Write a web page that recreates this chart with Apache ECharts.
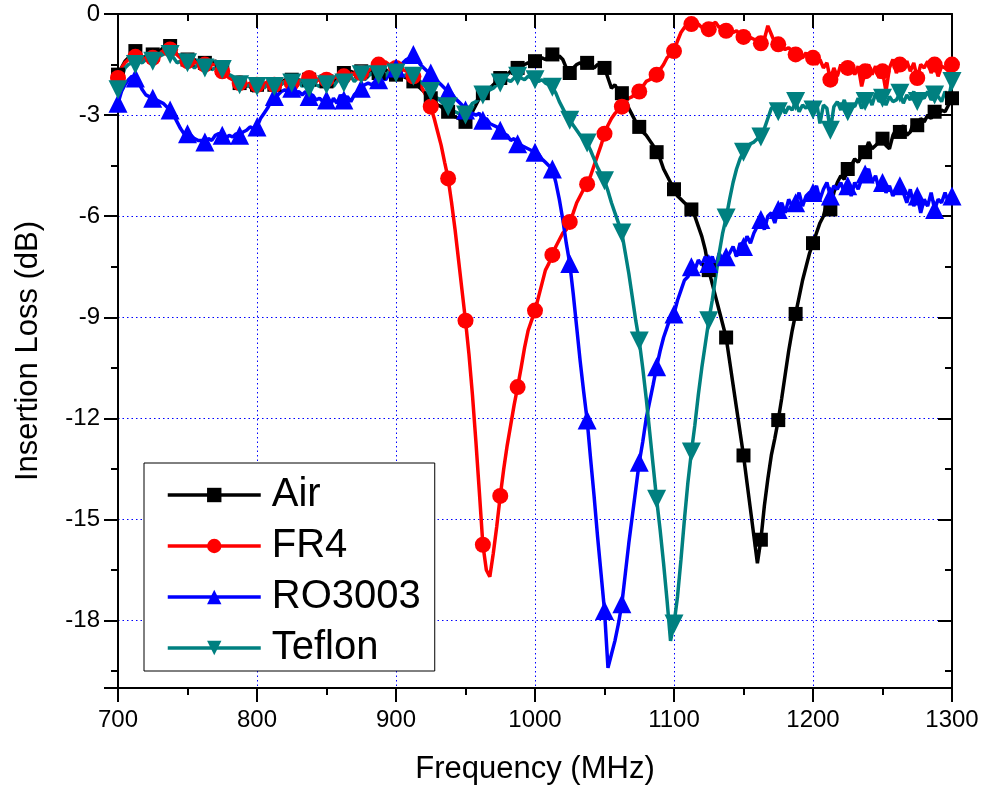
<!DOCTYPE html>
<html>
<head>
<meta charset="utf-8">
<script src="https://cdn.jsdelivr.net/npm/echarts@6/dist/echarts.min.js"></script>
<style>
  html, body { margin: 0; padding: 0; background: #fff; }
  #chart { width: 984px; height: 790px; }
</style>
</head>
<body>
<div id="chart"></div>
<script>
// insertion loss in dB, sampled every 2.5 MHz from 700 to 1300 MHz
const air = [
  -1.8, -1.6, -1.4, -1.3, -1.2, -1.1, -1.2, -1.3, -1.25, -1.3, -1.2, -1.2, -1.1, -1.0, -0.95, -0.95, -1.1, -1.2, -1.3, -1.3,
  -1.35, -1.4, -1.35, -1.45, -1.5, -1.45, -1.5, -1.45, -1.4, -1.45, -1.6, -1.7, -1.85, -1.95, -2.0, -2.05, -2.0, -2.1, -2.15, -2.3,
  -2.1, -2.2, -2.05, -2.1, -2.0, -2.1, -2.0, -2.05, -1.95, -2.0, -1.95, -2.05, -1.95, -2.0, -1.9, -1.95, -1.9, -2.0, -1.9, -1.95,
  -2.0, -1.9, -2.0, -1.85, -1.9, -1.75, -1.8, -1.7, -1.75, -1.85, -1.7, -1.8, -1.75, -1.7, -1.65, -1.75, -1.7, -1.65, -1.75, -1.8,
  -1.8, -1.75, -1.85, -1.9, -1.95, -2.0, -2.1, -2.2, -2.3, -2.4, -2.5, -2.6, -2.7, -2.75, -2.85, -2.9, -3.0, -3.05, -3.1, -3.15,
  -3.2, -3.1, -2.9, -2.7, -2.5, -2.35, -2.3, -2.2, -2.1, -2.0, -1.9, -1.85, -1.8, -1.7, -1.65, -1.6, -1.55, -1.5, -1.45, -1.45,
  -1.4, -1.35, -1.3, -1.35, -1.25, -1.2, -1.3, -1.25, -1.35, -1.6, -1.75, -1.6, -1.5, -1.45, -1.55, -1.45, -1.5, -1.6, -1.5, -1.55,
  -1.6, -1.9, -2.2, -2.1, -2.3, -2.35, -2.5, -2.8, -3.0, -3.2, -3.35, -3.5, -3.6, -3.75, -3.9, -4.1, -4.3, -4.6, -4.8, -5.0,
  -5.2, -5.4, -5.5, -5.6, -5.7, -5.8, -6.0, -6.3, -6.6, -7.0, -7.6, -8.0, -8.4, -8.8, -9.2, -9.6, -10.3, -11.0, -11.7, -12.4,
  -13.1, -13.9, -14.7, -15.5, -16.3, -15.6, -14.6, -13.8, -13.1, -12.6, -12.05, -11.4, -10.7, -10.0, -9.4, -8.9, -8.4, -7.9, -7.5, -7.1,
  -6.8, -6.5, -6.2, -6.0, -5.6, -5.8, -5.3, -5.0, -4.8, -4.9, -4.6, -4.5, -4.3, -4.4, -4.2, -4.1, -3.8, -4.0, -3.9, -3.8,
  -3.7, -3.9, -4.0, -3.6, -3.4, -3.5, -3.3, -3.6, -3.5, -3.2, -3.3, -3.1, -3.2, -3.0, -3.1, -2.9, -3.0, -2.85, -2.9, -2.7,
  -2.5
];
const fr4 = [
  -1.9, -1.6, -1.45, -1.35, -1.3, -1.27, -1.3, -1.35, -1.3, -1.25, -1.3, -1.2, -1.15, -1.1, -1.05, -1.05, -1.1, -1.2, -1.3, -1.35,
  -1.4, -1.45, -1.4, -1.5, -1.55, -1.5, -1.45, -1.5, -1.5, -1.55, -1.7, -1.8, -1.9, -1.95, -2.0, -2.05, -2.0, -2.1, -2.05, -2.15,
  -2.1, -2.05, -2.1, -2.0, -2.05, -2.1, -1.95, -2.05, -2.0, -1.95, -2.05, -1.9, -2.0, -1.95, -2.0, -1.9, -1.95, -2.0, -1.9, -1.9,
  -1.95, -1.85, -1.9, -1.85, -1.8, -1.85, -1.7, -1.75, -1.8, -1.7, -1.75, -1.65, -1.7, -1.6, -1.55, -1.5, -1.45, -1.42, -1.5, -1.55,
  -1.6, -1.6, -1.65, -1.7, -1.8, -1.85, -1.95, -2.1, -2.3, -2.5, -2.75, -3.1, -3.5, -3.9, -4.4, -4.88, -5.6, -6.4, -7.3, -8.2,
  -9.1, -10.1, -11.3, -12.7, -14.2, -15.75, -16.5, -16.7, -16.0, -15.2, -14.3, -13.5, -12.8, -12.2, -11.6, -11.07, -10.5, -9.9, -9.4, -9.1,
  -8.8, -8.4, -8.0, -7.6, -7.4, -7.15, -6.9, -6.7, -6.5, -6.4, -6.17, -5.9, -5.6, -5.4, -5.2, -5.05, -4.8, -4.5, -4.2, -3.9,
  -3.55, -3.3, -3.1, -2.95, -2.85, -2.75, -2.6, -2.5, -2.45, -2.35, -2.3, -2.15, -2.0, -1.95, -1.85, -1.8, -1.65, -1.5, -1.3, -1.2,
  -1.1, -0.8, -0.55, -0.4, -0.33, -0.3, -0.35, -0.3, -0.4, -0.35, -0.45, -0.3, -0.25, -0.4, -0.35, -0.5, -0.45, -0.55, -0.5, -0.6,
  -0.68, -0.65, -0.7, -0.75, -0.8, -0.87, -0.75, -0.35, -0.6, -0.85, -0.9, -1.0, -1.05, -1.0, -1.1, -1.2, -1.25, -1.3, -1.15, -1.4,
  -1.3, -1.5, -1.35, -1.6, -1.45, -1.95, -1.6, -1.85, -1.5, -1.75, -1.6, -1.45, -1.8, -1.55, -2.15, -1.7, -1.5, -1.8, -1.55, -1.9,
  -1.7, -2.3, -1.6, -1.35, -1.75, -1.5, -1.65, -1.4, -1.7, -1.45, -1.9, -1.5, -1.6, -1.4, -1.75, -1.5, -1.85, -1.55, -1.6, -1.7,
  -1.5
];
const ro3003 = [
  -2.65, -2.3, -2.1, -1.95, -1.85, -1.9, -2.05, -2.25, -2.4, -2.45, -2.5, -2.55, -2.6, -2.65, -2.75, -2.85, -3.0, -3.2, -3.4, -3.55,
  -3.55, -3.6, -3.7, -3.75, -3.75, -3.8, -3.7, -3.75, -3.6, -3.55, -3.6, -3.7, -3.6, -3.65, -3.55, -3.6, -3.5, -3.45, -3.35, -3.4,
  -3.35, -3.1, -2.95, -2.8, -2.6, -2.45, -2.4, -2.3, -2.25, -2.3, -2.2, -2.35, -2.3, -2.4, -2.3, -2.45, -2.4, -2.55, -2.5, -2.6,
  -2.55, -2.75, -2.5, -2.65, -2.4, -2.55, -2.45, -2.6, -2.4, -2.3, -2.2, -2.1, -2.05, -2.1, -2.0, -1.95, -1.9, -1.95, -1.8, -1.7,
  -1.6, -1.55, -1.45, -1.35, -1.3, -1.2, -1.35, -1.5, -1.6, -1.7, -1.75, -1.9, -2.0, -2.1, -2.2, -2.3, -2.35, -2.5, -2.6, -2.7,
  -2.85, -2.9, -2.95, -3.0, -2.95, -3.15, -3.1, -3.25, -3.3, -3.35, -3.45, -3.55, -3.6, -3.75, -3.7, -3.85, -3.9, -3.95, -4.0, -4.05,
  -4.1, -4.15, -4.3, -4.4, -4.5, -4.6, -5.0, -5.5, -6.1, -6.8, -7.4, -8.3, -9.3, -10.3, -11.2, -12.05, -13.2, -14.3, -15.5, -16.6,
  -17.7, -19.4, -19.0, -18.6, -18.1, -17.5, -16.6, -15.7, -14.9, -14.1, -13.3, -12.7, -12.0, -11.5, -11.0, -10.47, -10.0, -9.6, -9.3, -9.0,
  -8.9, -8.5, -8.2, -7.9, -7.8, -7.5, -7.6, -7.3, -7.45, -7.2, -7.4, -7.2, -7.5, -7.1, -7.3, -7.2, -7.1, -6.9, -7.2, -6.8,
  -6.9, -6.6, -6.8, -6.5, -6.3, -6.1, -6.4, -6.0, -5.9, -6.2, -5.8, -5.6, -5.9, -5.5, -5.7, -5.6, -5.3, -5.7, -5.4, -5.3,
  -5.3, -5.1, -5.5, -5.2, -5.0, -5.4, -5.1, -5.2, -5.0, -5.3, -5.1, -5.4, -5.0, -5.2, -4.9, -4.75, -4.6, -5.0, -4.8, -5.2,
  -5.0, -5.3, -5.1, -5.4, -5.2, -5.1, -5.3, -5.6, -5.2, -5.7, -5.4, -5.9, -5.5, -5.7, -5.3, -5.8, -5.5, -5.6, -5.3, -5.6,
  -5.4
];
const teflon = [
  -2.25, -1.9, -1.6, -1.5, -1.45, -1.5, -1.4, -1.45, -1.35, -1.3, -1.4, -1.3, -1.25, -1.2, -1.15, -1.2, -1.3, -1.45, -1.4, -1.5,
  -1.45, -1.5, -1.6, -1.5, -1.55, -1.6, -1.55, -1.65, -1.6, -1.7, -1.65, -1.75, -1.8, -1.85, -2.0, -2.1, -2.05, -2.15, -2.1, -2.2,
  -2.15, -2.05, -2.2, -2.1, -2.0, -2.15, -2.05, -2.1, -2.0, -2.2, -2.05, -2.1, -2.0, -2.15, -2.05, -2.2, -2.0, -2.1, -2.15, -2.0,
  -2.1, -2.05, -2.15, -2.0, -1.9, -2.05, -1.95, -1.85, -2.0, -1.9, -1.8, -1.95, -1.85, -1.75, -1.9, -1.8, -1.75, -1.85, -1.7, -1.8,
  -1.75, -1.8, -1.85, -1.8, -1.9, -1.85, -1.95, -2.0, -2.1, -2.2, -2.3, -2.45, -2.5, -2.6, -2.7, -2.75, -2.85, -2.9, -2.95, -2.9,
  -3.0, -2.8, -2.65, -2.6, -2.5, -2.4, -2.35, -2.25, -2.2, -2.1, -2.05, -2.0, -1.95, -2.0, -1.9, -1.85, -1.9, -1.95, -1.85, -1.9,
  -1.95, -2.0, -1.95, -2.05, -2.1, -2.17, -2.35, -2.6, -2.8, -3.0, -3.15, -3.3, -3.45, -3.6, -3.7, -3.83, -4.05, -4.3, -4.55, -4.75,
  -4.95, -5.25, -5.6, -5.9, -6.2, -6.5, -7.1, -7.7, -8.4, -9.1, -9.7, -10.5, -11.4, -12.4, -13.4, -14.4, -15.3, -16.3, -17.4, -18.6,
  -18.1, -17.3, -16.2, -15.0, -13.9, -13.0, -12.2, -11.3, -10.5, -9.8, -9.1, -8.5, -7.8, -7.1, -6.5, -6.05, -5.5, -5.0, -4.6, -4.3,
  -4.1, -3.95, -3.85, -3.8, -3.7, -3.65, -3.4, -3.1, -2.8, -2.75, -2.9, -2.7, -2.95, -2.75, -2.85, -2.6, -2.9, -2.7, -2.8, -2.65,
  -2.85, -2.6, -3.25, -2.7, -2.8, -3.45, -2.75, -2.6, -2.85, -2.55, -2.9, -2.7, -2.75, -2.5, -2.8, -2.6, -2.45, -2.7, -2.35, -2.6,
  -2.5, -2.7, -2.45, -2.6, -2.55, -2.35, -2.65, -2.4, -2.55, -2.3, -2.6, -2.45, -2.5, -2.3, -2.55, -2.4, -2.45, -2.6, -2.3, -2.5,
  -2.0
];
const freq = air.map((_, i) => 700 + 2.5 * i);
const seriesNames = ['Air', 'FR4', 'RO3003', 'Teflon'];

const font = "'Liberation Sans', Arial, Helvetica, sans-serif";
const chart = echarts.init(document.getElementById('chart'));

// the plot is drawn with the loss as a positive depth on an inverted axis,
// so the ticks can start from 0 with a 3 dB interval
function lineSeries(name, values, color, symbol, size, rotate) {
  return {
    name,
    type: 'line',
    data: values.map((v, i) => [freq[i], -v]),
    xAxisIndex: 0,
    yAxisIndex: 0,
    color,
    lineStyle: { color, width: 3.5 },
    itemStyle: { color },
    symbol,
    symbolRotate: rotate,
    symbolSize: (v, p) => (p.dataIndex % 5 === 0 ? size : 0),
    showSymbol: true,
    silent: true,
  };
}

const black = { color: '#000', width: 2 };

chart.setOption({
  animation: false,
  backgroundColor: '#fff',
  grid: { left: 118, right: 32, top: 14, bottom: 102 },
  legend: {
    orient: 'vertical',
    left: 144,
    top: 463,
    padding: [12, 14, 3, 22],
    itemGap: 11,
    itemWidth: 93,
    itemHeight: 18,
    backgroundColor: '#fff',
    borderColor: '#000',
    borderWidth: 1,
    lineStyle: { width: 3.5 },
    textStyle: { fontSize: 40, fontFamily: font, color: '#000', lineHeight: 40, padding: [0, 0, 0, 6] },
    data: seriesNames,
  },
  xAxis: [
    {
      type: 'value',
      min: 700,
      max: 1300,
      interval: 100,
      name: 'Frequency (MHz)',
      nameLocation: 'middle',
      nameGap: 66,
      nameTextStyle: { fontSize: 31, fontFamily: font, color: '#000' },
      axisLine: { show: true, onZero: false, lineStyle: black },
      axisTick: { show: true, inside: false, length: 14, lineStyle: black },
      minorTick: { show: true, splitNumber: 2, length: 7, lineStyle: black },
      axisLabel: {
        fontSize: 24,
        fontFamily: font,
        color: '#000',
        margin: 20,
        showMinLabel: true,
        showMaxLabel: true,
        formatter: (v) => String(v),
      },
      splitLine: { show: true, lineStyle: { color: '#0000ff', width: 1, type: [1.5, 3] } },
    },
    {
      type: 'value',
      position: 'top',
      min: 700,
      max: 1300,
      interval: 100,
      axisLine: { show: true, onZero: false, lineStyle: black },
      axisTick: { show: true, inside: true, length: 14, lineStyle: black },
      minorTick: { show: true, splitNumber: 2, length: 7, lineStyle: black },
      axisLabel: { show: false },
      splitLine: { show: false },
    },
  ],
  yAxis: [
    {
      type: 'value',
      inverse: true,
      min: 0,
      max: 20,
      interval: 3,
      name: 'Insertion Loss (dB)',
      nameLocation: 'middle',
      nameGap: 74,
      nameTextStyle: { fontSize: 31, fontFamily: font, color: '#000' },
      axisLine: { show: true, onZero: false, lineStyle: black },
      axisTick: { show: true, inside: false, length: 14, lineStyle: black },
      minorTick: { show: true, splitNumber: 2, length: 7, lineStyle: black },
      axisLabel: {
        fontSize: 24,
        fontFamily: font,
        color: '#000',
        margin: 18,
        formatter: (v) => (v === 20 ? '' : v === 0 ? '0' : '-' + v),
      },
      splitLine: { show: true, lineStyle: { color: '#0000ff', width: 1, type: [1.5, 3] } },
    },
    {
      type: 'value',
      position: 'right',
      inverse: true,
      min: 0,
      max: 20,
      interval: 3,
      axisLine: { show: true, onZero: false, lineStyle: black },
      axisTick: { show: true, inside: true, length: 14, lineStyle: black },
      minorTick: { show: true, splitNumber: 2, length: 7, lineStyle: black },
      axisLabel: { show: false },
      splitLine: { show: false },
    },
  ],
  series: [
    lineSeries('Air', air, '#000000', 'rect', 14, 0),
    lineSeries('FR4', fr4, '#ff0000', 'circle', 16, 0),
    lineSeries('RO3003', ro3003, '#0000ff', 'triangle', 19, 0),
    lineSeries('Teflon', teflon, '#008080', 'triangle', 19, 180),
  ],
});
</script>
</body>
</html>
